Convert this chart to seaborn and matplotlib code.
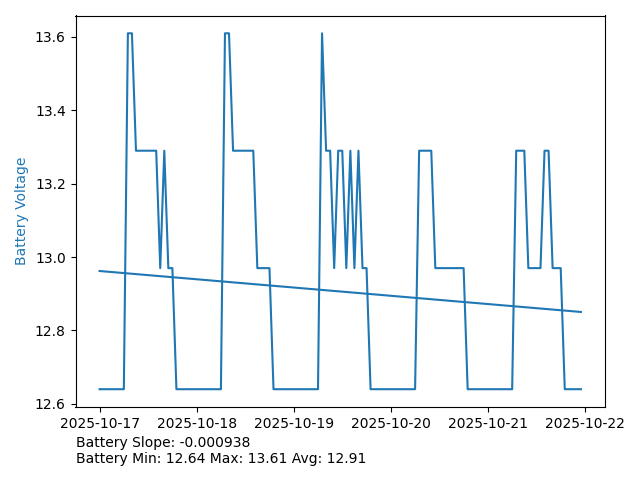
import numpy as np
import pandas as pd
import matplotlib
matplotlib.use("Agg")
import matplotlib.pyplot as plt
import seaborn as sns

start_time = "2025-10-17 00:00"
voltage = [
    12.64, 12.64, 12.64, 12.64, 12.64, 12.64, 12.64, 13.61, 13.61, 13.29,
    13.29, 13.29, 13.29, 13.29, 13.29, 12.97, 13.29, 12.97, 12.97, 12.64,
    12.64, 12.64, 12.64, 12.64, 12.64, 12.64, 12.64, 12.64, 12.64, 12.64,
    12.64, 13.61, 13.61, 13.29, 13.29, 13.29, 13.29, 13.29, 13.29, 12.97,
    12.97, 12.97, 12.97, 12.64, 12.64, 12.64, 12.64, 12.64, 12.64, 12.64,
    12.64, 12.64, 12.64, 12.64, 12.64, 13.61, 13.29, 13.29, 12.97, 13.29,
    13.29, 12.97, 13.29, 12.97, 13.29, 12.97, 12.97, 12.64, 12.64, 12.64,
    12.64, 12.64, 12.64, 12.64, 12.64, 12.64, 12.64, 12.64, 12.64, 13.29,
    13.29, 13.29, 13.29, 12.97, 12.97, 12.97, 12.97, 12.97, 12.97, 12.97,
    12.97, 12.64, 12.64, 12.64, 12.64, 12.64, 12.64, 12.64, 12.64, 12.64,
    12.64, 12.64, 12.64, 13.29, 13.29, 13.29, 12.97, 12.97, 12.97, 12.97,
    13.29, 13.29, 12.97, 12.97, 12.97, 12.64, 12.64, 12.64, 12.64, 12.64,
]

times = pd.date_range(start_time, periods=len(voltage), freq="h")
df = pd.DataFrame({"time": times, "voltage": voltage})

idx = np.arange(len(voltage))
slope, intercept = np.polyfit(idx, np.array(voltage), 1)
df["trend"] = slope * idx + intercept

fig = plt.figure(figsize=(6.4, 4.8), dpi=100)
ax = fig.add_subplot(111)
fig.subplots_adjust(left=75.5 / 640, right=605 / 640, top=1 - 15.5 / 480, bottom=1 - 407 / 480)

sns.lineplot(data=df, x="time", y="voltage", ax=ax, color="C0")
sns.lineplot(data=df, x="time", y="trend", ax=ax, color="C0")

ax.set_xlabel("")
ax.set_ylabel("Battery Voltage", color="C0")

txt = (f"Battery Slope: {slope:.6f}\n"
       f"Battery Min: {min(voltage):.2f} Max: {max(voltage):.2f} Avg: {np.mean(voltage):.2f}")
fig.text(75.5 / 640, 1 - 466 / 480, txt, ha="left", va="bottom", fontsize=10)

fig.savefig("out.png", dpi=100)
